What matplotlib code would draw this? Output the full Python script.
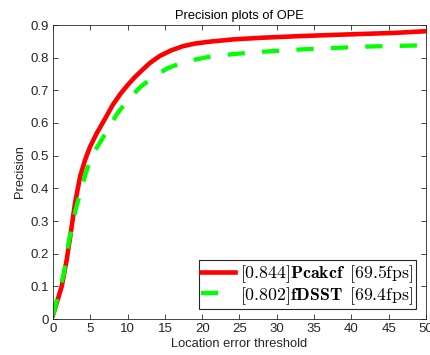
import matplotlib
matplotlib.use("Agg")
import matplotlib.pyplot as plt
import numpy as np

# values
thr_pcakcf = [0, 0.13, 1.16, 1.83, 2.37, 2.95, 3.62, 4.29, 4.96, 5.85, 7.0, 8.0, 9.0,
              10.0, 11.0, 12.0, 13.0, 14.3, 15.8, 17.4, 19.0, 21.0, 24.2, 28.0, 33.1,
              38.0, 42.0, 46.0, 50.0]
prec_pcakcf = [0.012, 0.022, 0.099, 0.18, 0.262, 0.354, 0.435, 0.486, 0.527, 0.568,
               0.614, 0.655, 0.688, 0.716, 0.741, 0.763, 0.784, 0.805, 0.822, 0.835,
               0.843, 0.849, 0.856, 0.861, 0.866, 0.870, 0.873, 0.876, 0.881]
thr_fdsst = [0, 0.2, 1.47, 2.15, 3.04, 4.3, 5.2, 6.3, 7.6, 8.5, 10.0, 11.7, 13.5, 15.3,
             17.0, 18.8, 21.0, 24.2, 28.0, 33.1, 37.0, 42.0, 46.0, 50.0]
prec_fdsst = [0.01, 0.03, 0.14, 0.24, 0.335, 0.44, 0.5, 0.54, 0.59, 0.625, 0.67, 0.71,
              0.742, 0.767, 0.782, 0.793, 0.803, 0.811, 0.818, 0.825, 0.829, 0.834,
              0.836, 0.838]

labels = [r"$[0.844]\mathbf{Pcakcf}\ \,[69.5\mathrm{fps}]$",
          r"$[0.802]\mathbf{fDSST}\ \,[69.4\mathrm{fps}]$"]

plt.rcParams["mathtext.fontset"] = "cm"
plt.rcParams["font.family"] = ["Liberation Sans", "DejaVu Sans"]

fig = plt.figure(figsize=(4.31, 3.55), dpi=100)
ax = fig.add_axes([53 / 431, 1 - 319 / 355, (426 - 53) / 431, (319 - 25) / 355])

ax.plot(thr_pcakcf, prec_pcakcf, color="#ff0000", lw=3.3, label=labels[0])
ax.plot(thr_fdsst, prec_fdsst, color="#00ff00", lw=3.1, ls=(0, (4, 4)), label=labels[1])

ax.set_xlim(0, 50)
ax.set_ylim(0, 0.9)
ax.set_xticks(np.arange(0, 51, 5))
ax.set_yticks(np.arange(0, 0.91, 0.1))
ax.set_yticklabels(["0", "0.1", "0.2", "0.3", "0.4", "0.5", "0.6", "0.7", "0.8", "0.9"])
ax.tick_params(direction="in", top=True, right=True, labelsize=9.5, colors="#262626",
               length=3.5, width=0.6, pad=3)
for s in ax.spines.values():
    s.set_color("#262626")
    s.set_linewidth(0.6)

ax.set_xlabel("Location error threshold", fontsize=9.3, color="#262626", labelpad=2)
ax.set_ylabel("Precision", fontsize=9.3, color="#262626", labelpad=3)
ax.set_title("Precision plots of OPE", fontsize=9.3, color="#000000", pad=4)

leg = ax.legend(loc="lower right", fontsize=12.8, fancybox=False, framealpha=1,
                edgecolor="#262626", handlelength=1.9, borderaxespad=0.55,
                handletextpad=0.3, labelspacing=0.0, borderpad=0.15)
leg.get_frame().set_linewidth(0.8)

fig.savefig("out.png", dpi=100)
